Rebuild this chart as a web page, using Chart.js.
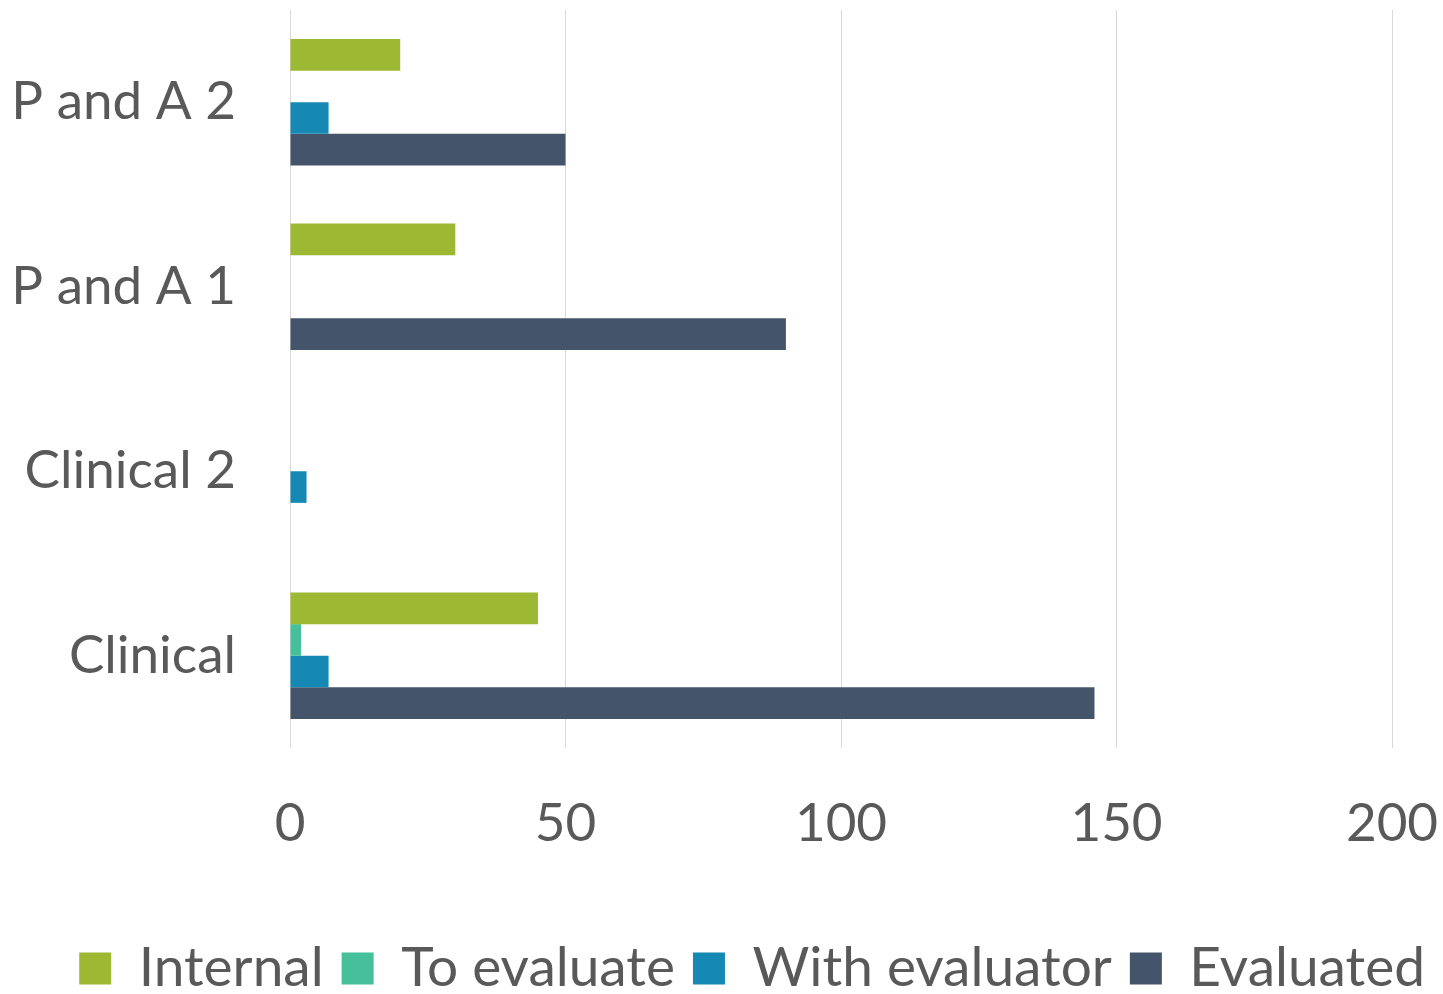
<!DOCTYPE html>
<html>
<head>
<meta charset="utf-8">
<script src="https://cdn.jsdelivr.net/npm/chart.js@4"></script>
<style>
  html, body { margin: 0; padding: 0; background: #ffffff; }
  #wrap { width: 1443px; height: 994px; }
</style>
</head>
<body>
<div id="wrap"><canvas id="c" width="1443" height="994"></canvas></div>
<script>
const categories = ['P and A 2', 'P and A 1', 'Clinical 2', 'Clinical'];
const internalValues = [20, 30, 0, 45];
const toEvaluateValues = [0, 0, 0, 2];
const withEvaluatorValues = [7, 0, 3, 7];
const evaluatedValues = [50, 90, 0, 146];
const xTicks = [0, 50, 100, 150, 200];

const FONT = 'Lato';
const TEXT = '#595959';

new Chart(document.getElementById('c'), {
  type: 'bar',
  data: {
    labels: categories,
    datasets: [
      { label: 'Internal', data: internalValues, backgroundColor: '#9DB833' },
      { label: 'To evaluate', data: toEvaluateValues, backgroundColor: '#45C09B' },
      { label: 'With evaluator', data: withEvaluatorValues, backgroundColor: '#1588B4' },
      { label: 'Evaluated', data: evaluatedValues, backgroundColor: '#44546A' }
    ]
  },
  options: {
    indexAxis: 'y',
    responsive: false,
    animation: false,
    devicePixelRatio: 1,
    layout: { padding: { left: 0, right: 0, top: 10, bottom: -12 } },
    datasets: { bar: { categoryPercentage: 0.685, barPercentage: 1.0, borderWidth: 0 } },
    scales: {
      x: {
        min: xTicks[0], max: xTicks[xTicks.length - 1],
        afterBuildTicks: (s) => { s.ticks = xTicks.map(v => ({ value: v })); },
        grid: { color: '#d9d9d9', lineWidth: 1, drawTicks: false },
        border: { display: false },
        ticks: { color: TEXT, font: { family: FONT, size: 53 }, padding: 44, maxRotation: 0 },
        afterFit: (s) => { s.height = 175; s.paddingLeft = 0; s.paddingRight = 51; }
      },
      y: {
        grid: { display: false, drawTicks: false },
        border: { display: false },
        ticks: { color: TEXT, font: { family: FONT, size: 53 }, padding: 54 },
        afterFit: (s) => { s.width = 290; s.paddingTop = 0; s.paddingBottom = 0; }
      }
    },
    plugins: {
      legend: {
        position: 'bottom',
        align: 'end',
        labels: { color: TEXT, font: { family: FONT, size: 55 }, boxWidth: 32, boxHeight: 32, padding: 18 }
      },
      tooltip: { enabled: false }
    }
  }
});
</script>
</body>
</html>
